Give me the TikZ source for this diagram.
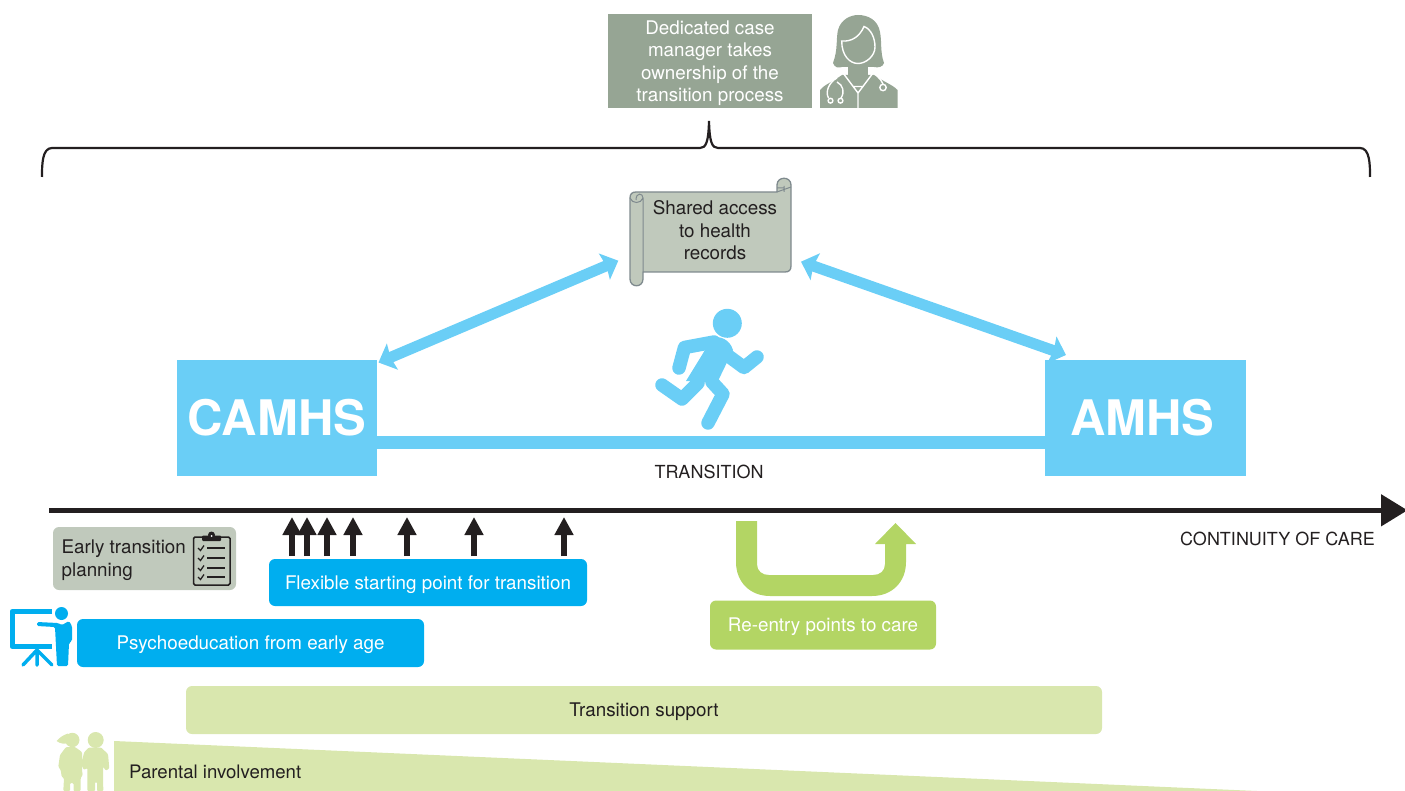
\documentclass[tikz,border=0pt]{standalone}
\usepackage{fontspec}
\setmainfont{TeX Gyre Heros}
\usetikzlibrary{arrows.meta}
\definecolor{sage}{HTML}{96A594}
\definecolor{pale}{HTML}{C0C9BC}
\definecolor{sky}{HTML}{6ACEF6}
\definecolor{deep}{HTML}{00AEEF}
\definecolor{lime}{HTML}{B3D564}
\definecolor{limel}{HTML}{D9E7AE}
\definecolor{ink}{HTML}{231F20}
\definecolor{scrolledge}{HTML}{7F8A8E}
\newcommand{\lowr}[2][2pt]{\raisebox{-#1}[\height][\depth]{#2}}
\tikzset{
 x=1pt,y=-1pt,
 txt/.style={font=\fontsize{18.8}{22.4}\selectfont,inner sep=0pt,align=center},
 caps/.style={font=\fontsize{18}{22}\selectfont,inner sep=0pt},
 box/.style={txt,rounded corners=6pt},
 bigbox/.style={inner sep=0pt,fill=sky,text=white,font=\fontsize{49}{50}\bfseries\selectfont,minimum height=116pt},
 dbl/.style={draw=sky,line width=11pt,{Stealth[length=15pt,width=28pt,inset=2pt]}-{Stealth[length=15pt,width=28pt,inset=2pt]}},
 up/.style={draw=ink,line width=5.5pt,-{Triangle[length=18pt,width=18pt]}},
 limb/.style={draw=sky,line width=13.5pt,line cap=round,line join=round},
 chk/.style={draw=ink,line width=1.3pt},
}
\begin{document}
\begin{tikzpicture}
\useasboundingbox (0,0) rectangle (1405,791);
% case manager
\node[txt,fill=sage,text=white,minimum width=204pt,minimum height=94pt] (mgr) at (710,61) {\lowr[2.5pt]{\begin{tabular}{@{}c@{}}Dedicated case\\manager takes\\ownership of the\\transition process\end{tabular}}};
% doctor
\fill[sage] (833,63) .. controls (838,50) and (836,38) .. (838,30) .. controls (841,19) and (851,15) .. (858,15) .. controls (868,15) and (878,20) .. (880,32) .. controls (882,42) and (880,52) .. (884,63) .. controls (883,67) and (878,68) .. (874,67) -- (842,67) .. controls (838,68) and (835,68) .. (833,63) -- cycle;
\fill[sage] (820,108) -- (820,90) .. controls (824,85) and (832,82) .. (842,75) -- (874,75) .. controls (884,82) and (893,85) .. (897.5,90) -- (897.5,108) -- cycle;
\fill[sage] (848,60) rectangle (868,80);
\draw[white,line width=1.4pt,fill=sage] (841.7,41) .. controls (852,42) and (860,36) .. (864,26.5) .. controls (871,29) and (875,38) .. (875,47) .. controls (875,56) and (866,63.5) .. (858,63.5) .. controls (850,63.5) and (841.7,56) .. (841.7,41) -- cycle;
\draw[white,line width=1.4pt] (843,73) -- (858,93) -- (873,73) (852.5,86.5) -- (863.5,86.5) (858,93) -- (858,108);
\draw[white,line width=1.4pt] (837,78) .. controls (829,82) and (825,92) .. (828.5,98) (837,82) .. controls (843,85) and (845,92) .. (841,98) (877,76) .. controls (880,79) and (882,81) .. (883,84);
\draw[white,line width=1.4pt,fill=sage] (830.5,100.7) circle (2.4) (840.5,100.7) circle (2.4) (883,87.5) circle (3.2);
% bracket
\coordinate (bl) at (42,177);
\coordinate (br) at (1370,177);
\coordinate (bt) at (709,121);
\draw[ink,line width=2.2pt] (bl) .. controls (42,165) and (42,148) .. (52,148) -- (700,148) .. controls (706,148) and (708.5,142) .. (bt) .. controls (709.5,142) and (712,148) .. (718,148) -- (1360,148) .. controls (1370,148) and (1370,165) .. (br);
% scroll
\draw[scrolledge,fill=pale,line width=1.3pt,line join=round] (636,192) -- (777,192) -- (777,185) .. controls (777,176) and (791,176) .. (791,185) -- (791,266) .. controls (791,270) and (789,272) .. (785,272) -- (643,272) -- (643,279) .. controls (643,288) and (630,288) .. (630,279) -- (630,198) .. controls (630,194) and (632,192) .. (636,192) -- cycle;
\draw[scrolledge,line width=1pt] (643,198) -- (643,272) (630,198) .. controls (632,204) and (641,204) .. (643,198) .. controls (643,193) and (636,192) .. (636,200);
\draw[scrolledge,line width=1pt] (777,192) -- (791,187) (784,186) -- (784,192) (777,188)--(784,188);
\node[txt,text=ink,minimum width=148pt,minimum height=80pt] (rec) at (715,230.5) {Shared access\\to health\\records};
% boxes
\node[bigbox,minimum width=200pt] (camhs) at (277,418) {CAMHS};
\node[bigbox,minimum width=201pt] (amhs) at (1145.5,418) {\hspace*{-6pt}AMHS};
\draw[sky,line width=13pt] ([yshift=-24.5pt]camhs.east) -- ([yshift=-24.5pt]amhs.west);
\node[caps,text=ink] (trans) at (709,471.5) {TRANSITION};
\coordinate (a1) at (378.5,362.5);
\coordinate (a2) at (618.3,260.7);
\coordinate (a3) at (801,261.7);
\coordinate (a4) at (1066,355);
\draw[dbl] (a1) -- (a2);
\draw[dbl] (a3) -- (a4);
% runner
\fill[sky] (727.3,323.3) circle (14.5);
\fill[sky] (712,338) .. controls (720,335) and (730,340) .. (733,350) -- (717,383) -- (686,381) -- (702,355) -- cycle;
\draw[limb] (714,342) -- (684.5,347.5) -- (679,368);
\draw[limb] (727,355) -- (744,367.5) -- (757,357);
\draw[limb] (698,383) -- (682,399) -- (662,385);
\draw[limb] (712,382) -- (723,394) -- (708,423);
% axis
\coordinate (ax1) at (49,510.3);
\coordinate (ax2) at (1407.5,510.3);
\draw[ink,line width=5pt,-{Triangle[length=26.5pt,width=31pt]}] (ax1) -- (ax2);
\node[caps,text=ink,anchor=east] (cont) at (1375,538.5) {CONTINUITY OF CARE};
% early planning
\node[box,fill=pale,minimum width=183pt,minimum height=63pt] (early) at (144.5,558.5) {};
\node[txt,text=ink,align=left,anchor=west] (earlyt) at (61.5,560) {Early transition\\planning};
% clipboard
\draw[ink,line width=1.5pt,rounded corners=1.5pt] (193.5,537) rectangle (230,585);
\fill[ink,rounded corners=1pt] (202,541) rectangle (221,535.5);
\fill[ink] (211.5,535) circle (3.5);
\fill[white] (211.5,536) circle (1);
\foreach \yy in {548,558,568,577}{
 \draw[chk] (198,\yy) -- (200.5,\yy+2.5) -- (204,\yy-2.5);
 \draw[chk] (207,\yy) -- (225,\yy);
}
% flexible
\node[box,fill=deep,text=white,minimum width=318pt,minimum height=47pt] (flex) at (428,582.5) {\lowr{Flexible starting point for transition}};
\foreach \nm/\xx in {u1/292,u2/307,u3/327,u4/353,u5/407,u6/474,u7/564}{
 \coordinate (\nm s) at (\xx,556);
 \coordinate (\nm e) at (\xx,517);
 \draw[up] (\nm s) -- (\nm e);
}
% psychoeducation
\node[box,fill=deep,text=white,minimum width=347pt,minimum height=48pt] (psy) at (250.5,643) {\lowr{Psychoeducation from early age}};
% presenter
\draw[deep,line width=5pt,line join=round] (52,611.5) -- (12,611.5) -- (12,646.5) -- (52,646.5);
\draw[deep,line width=3.5pt,line cap=round] (37,650) -- (23,665) (37,650) -- (37,665) (37,650) -- (52,665);
\fill[deep] (61.5,613.5) circle (6.5);
\fill[deep,rounded corners=1.5pt] (37,622) -- (58,623) -- (62,625) -- (69,621) -- (72,626) -- (72,641) -- (69,643) -- (68,666) -- (57,666) -- (55,627) -- (37,626) -- cycle;
% reentry
\fill[lime] (736,521) -- (757,521) -- (757,564) .. controls (757,571) and (762,575) .. (769,575) -- (873,575) .. controls (880,575) and (885,571) .. (885,564) -- (885,544) -- (875,544) -- (895.5,523) -- (916,544) -- (906,544) -- (906,562) .. controls (906,582) and (892,596) .. (872,596) -- (770,596) .. controls (750,596) and (736,582) .. (736,562) -- cycle;
\node[box,fill=lime,text=white,minimum width=226pt,minimum height=49pt] (reentry) at (823,625) {\lowr{Re-entry points to care}};
% support
\node[box,fill=limel,text=ink,minimum width=916pt,minimum height=48pt] (supp) at (644,710) {\lowr{Transition support}};
% parental
\fill[limel] (114,741) -- (1257,791) -- (114,791) -- cycle;
\node[txt,text=ink,anchor=west,font=\fontsize{18.6}{22.4}\selectfont] (par) at (129,771.5) {Parental involvement};
% kids
\fill[limel] (72.3,740) circle (7.2) (95.7,740) circle (8);
\fill[limel] (68,733.5) .. controls (63,735) and (59,738) .. (56.7,741) .. controls (60,744) and (65,744) .. (68,743) -- cycle;
\fill[limel,rounded corners=1pt] (66,747) -- (75,747) -- (82,752) -- (82,770) -- (82.7,775) -- (80.7,778) -- (80.7,791) -- (73.5,791) -- (73.5,783) -- (70,783) -- (70,791) -- (63.3,791) -- (64,778.3) -- (61.7,776.7) -- (60.7,770) -- (58.3,766.7) -- (60,755) -- cycle;
\fill[limel,rounded corners=1pt] (89,747.5) -- (101,747.5) -- (108,754) -- (109.3,768.3) -- (106,770.7) -- (103,766.7) -- (103.3,791) -- (97,791) -- (97,782) -- (95,782) -- (95,791) -- (87.3,791) -- (87.3,768) -- (84,770) -- (81,764) -- (84.3,752) -- cycle;
\end{tikzpicture}
\end{document}
